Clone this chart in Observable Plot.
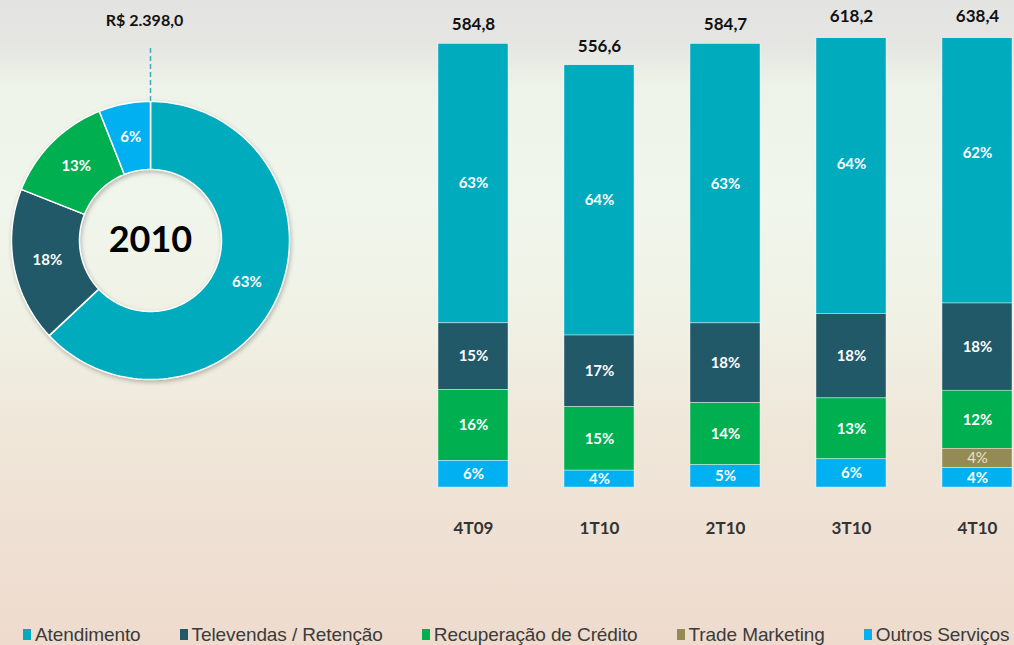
<!DOCTYPE html>
<html>
<head>
<meta charset="utf-8">
<script src="https://cdn.jsdelivr.net/npm/d3@7"></script>
<script src="https://cdn.jsdelivr.net/npm/@observablehq/plot@0.6"></script>
<style>
html,body{margin:0;padding:0;}
body{width:1014px;height:645px;overflow:hidden;position:relative;
  background:linear-gradient(to bottom,#e3e3e1 0px,#e5e6e2 45px,#edf3e9 85px,#f0f6ec 200px,#f0f1e5 320px,#efe7d9 430px,#eedfd2 560px,#eedbcd 645px);
  font-family:Lato,sans-serif;}
#donut{position:absolute;left:0;top:0;}
#bars{position:absolute;left:400px;top:0;}
#legend{position:absolute;left:23px;top:625px;display:flex;align-items:center;gap:39px;
  font-family:"Liberation Sans",Arial,sans-serif;font-size:19px;line-height:19px;color:#3b3b3b;white-space:nowrap;letter-spacing:-0.1px;}
.item{display:flex;align-items:center;gap:4px;}
.sw{width:8px;height:11px;display:inline-block;}
</style>
</head>
<body>
<div id="donut"></div>
<div id="bars"></div>
<div id="legend"></div>
<script>
// ---- data ----
const categories = ["Atendimento", "Televendas / Retenção", "Recuperação de Crédito", "Trade Marketing", "Outros Serviços"];
const colors = ["#00abbe", "#215968", "#00b050", "#948a54", "#00b0f0"];

const periods = ["4T09", "1T10", "2T10", "3T10", "4T10"];
const totals = [584.8, 556.6, 584.7, 618.2, 638.4];
const atendimento = [63, 64, 63, 64, 62];
const televendas = [15, 17, 18, 18, 18];
const recuperacao = [16, 15, 14, 13, 12];
const tradeMarketing = [0, 0, 0, 0, 4];
const outros = [6, 4, 5, 6, 4];

const donutYear = "2010";
const donutTotal = "R$ 2.398,0";
const donutCats = ["Atendimento", "Televendas / Retenção", "Recuperação de Crédito", "Outros Serviços"];
const donutPct = [63, 18, 13, 6];

// ---- bars ----
const shares = [atendimento, televendas, recuperacao, tradeMarketing, outros];
const rows = [];
periods.forEach((p, i) => {
  categories.forEach((c, j) => {
    const pct = shares[j][i];
    if (pct > 0) rows.push({period: p, cat: c, pct, value: totals[i] * pct / 100});
  });
});
const stackOrder = ["Outros Serviços", "Trade Marketing", "Recuperação de Crédito", "Televendas / Retenção", "Atendimento"];
const totalRows = periods.map((p, i) => ({period: p, total: totals[i]}));
const yMax = 592;

const bars = Plot.plot({
  width: 614, height: 560,
  marginLeft: 37, marginRight: 1, marginTop: 38, marginBottom: 73,
  x: {domain: periods, paddingInner: 0.447, paddingOuter: 0, axis: null},
  y: {domain: [0, yMax], axis: null},
  color: {domain: categories, range: colors},
  style: {background: "transparent", fontFamily: "Lato, sans-serif", overflow: "visible"},
  marks: [
    Plot.barY(rows, Plot.stackY({x: "period", y: "value", fill: "cat", order: stackOrder, clip: true, stroke: "white", strokeWidth: 0.4})),
    Plot.text(rows, Plot.stackY({x: "period", y: "value", z: "cat", order: stackOrder,
      text: d => d.cat === "Trade Marketing" ? "" : d.pct + "%", fill: "white", fontWeight: "bold", fontSize: 15})),
    Plot.text(rows, Plot.stackY({x: "period", y: "value", z: "cat", order: stackOrder,
      text: d => d.cat === "Trade Marketing" ? d.pct + "%" : "", fill: "#e8e2cc", fontWeight: "normal", fontSize: 15})),
    Plot.text(totalRows, {x: "period", y: d => Math.min(d.total, yMax + 4), dy: -19,
      text: d => d.total.toFixed(1).replace(".", ","), fontWeight: "bold", fontSize: 17, fill: "#111"}),
    Plot.text(periods, {x: d => d, frameAnchor: "bottom", lineAnchor: "middle", dy: 41, text: d => d, fontWeight: "bold", fontSize: 17, fill: "#333"})
  ]
});
document.getElementById("bars").appendChild(bars);

// ---- donut ----
const R = 1, r = 71 / 139;
const slicePts = [], sliceLabels = [];
let acc = 0;
donutCats.forEach((c, i) => {
  const a0 = acc / 100 * 2 * Math.PI, a1 = (acc + donutPct[i]) / 100 * 2 * Math.PI;
  acc += donutPct[i];
  const n = Math.max(4, Math.ceil(donutPct[i] * 2));
  for (let k = 0; k <= n; k++) { const a = a0 + (a1 - a0) * k / n; slicePts.push({cat: c, x: R * Math.sin(a), y: R * Math.cos(a)}); }
  for (let k = n; k >= 0; k--) { const a = a0 + (a1 - a0) * k / n; slicePts.push({cat: c, x: r * Math.sin(a), y: r * Math.cos(a)}); }
  const am = (a0 + a1) / 2, rm = (R + r) / 2;
  sliceLabels.push({x: rm * Math.sin(am), y: rm * Math.cos(am), text: donutPct[i] + "%"});
});

const donut = Plot.plot({
  width: 300, height: 400, margin: 0,
  x: {domain: [-150 / 139, 150 / 139], axis: null},
  y: {domain: [-160 / 139, 240 / 139], axis: null},
  color: {domain: categories, range: colors},
  style: {background: "transparent", fontFamily: "Lato, sans-serif", overflow: "visible"},
  marks: [
    Plot.line(slicePts, {x: "x", y: "y", z: "cat", fill: "cat", stroke: "white", strokeWidth: 1.5, curve: "linear-closed"}),
    Plot.ruleX([{x: 0, y1: R, y2: R + 56 / 139}], {x: "x", y1: "y1", y2: "y2", stroke: "#4aa7b6", strokeWidth: 1.5, strokeDasharray: "5,3"}),
    Plot.text(sliceLabels, {x: "x", y: "y", text: "text", fill: "white", fontWeight: "bold", fontSize: 15}),
    Plot.text([{x: 0, y: 0, t: donutYear}], {x: "x", y: "y", text: "t", fontSize: 36, fontWeight: "bold", fill: "#000"}),
    Plot.text([{x: 0, y: R + 81 / 139, t: donutTotal}], {x: "x", y: "y", dx: -6, text: "t", fontSize: 16, fontWeight: "bold", fill: "#111"})
  ]
});
const lineG = donut.querySelector('g[aria-label="line"]');
if (lineG) lineG.style.filter = "drop-shadow(1px 2px 2px rgba(0,0,0,0.25))";
document.getElementById("donut").appendChild(donut);

// ---- legend ----
const legend = document.getElementById("legend");
categories.forEach((c, i) => {
  const it = document.createElement("span");
  it.className = "item";
  const sw = document.createElement("span");
  sw.className = "sw";
  sw.style.background = colors[i];
  const tx = document.createElement("span");
  tx.textContent = c;
  it.appendChild(sw); it.appendChild(tx);
  legend.appendChild(it);
});
</script>
</body>
</html>
